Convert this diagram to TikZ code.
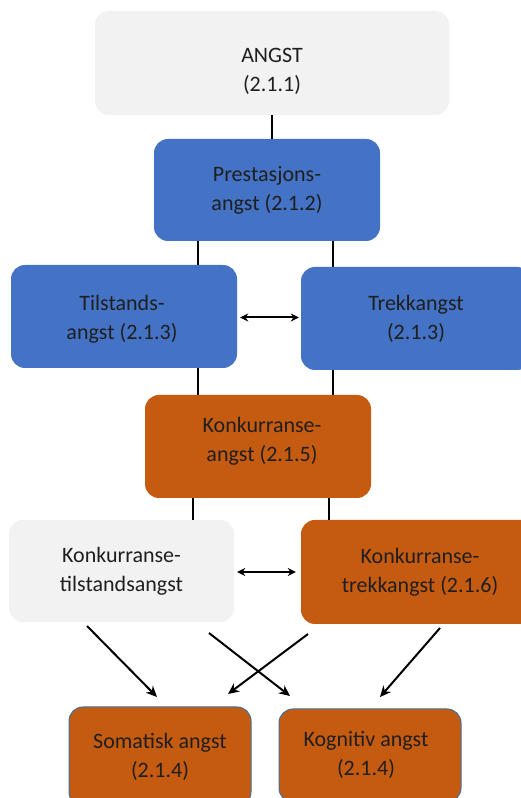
\documentclass[tikz,border=0pt]{standalone}
\usepackage{fontspec}
\setmainfont{Carlito}
\usetikzlibrary{arrows.meta,calc}
\definecolor{lgray}{HTML}{F2F2F2}
\definecolor{mblue}{HTML}{4472C4}
\definecolor{morange}{HTML}{C55A11}
\definecolor{bedge}{HTML}{41719C}
\definecolor{txt}{HTML}{1F1F1F}
\newcommand\nudgetext[3]{\raisebox{#2}[\height][\depth]{\rlap{\hspace*{#1}\begin{tabular}{@{}c@{}}#3\end{tabular}}\phantom{\begin{tabular}{@{}c@{}}#3\end{tabular}}}}
\begin{document}
\begin{tikzpicture}[x=1pt,y=1pt,
  box/.style={rounded corners=14pt, inner sep=0pt, align=center,
    font=\fontsize{22}{29}\selectfont, text=txt},
  grey/.style={box, fill=lgray},
  blue/.style={box, fill=mblue},
  orange/.style={box, fill=morange},
  edged/.style={orange, draw=bedge, line width=1pt},
  link/.style={line width=2.6pt},
  arr/.style={line width=2pt, -{Stealth[length=11pt,width=10pt]}},
  darr/.style={line width=2pt, {Stealth[length=8pt,width=8pt]}-{Stealth[length=8pt,width=8pt]}}]
\useasboundingbox (0,0) rectangle (521,798);
\clip (0,0) rectangle (521,798);
\fill[white] (0,0) rectangle (521,798);
% nodes (y = 798 - pixel y)
\node[grey, minimum width=354, minimum height=104] (angst) at (272,735) {\nudgetext{0pt}{-8pt}{ANGST\\(2.1.1)}};
\node[blue, minimum width=226, minimum height=102] (prest) at (267,608) {Prestasjons-\\angst (2.1.2)};
\node[blue, minimum width=226, minimum height=103] (tils) at (124,481.5) {\nudgetext{-2pt}{-3pt}{Tilstands-\\angst (2.1.3)}};
\node[blue, minimum width=230, minimum height=103] (trekk) at (416,479.5) {Trekkangst\\(2.1.3)};
\node[orange, minimum width=226, minimum height=103] (konk) at (258,351.5) {\nudgetext{4pt}{5pt}{Konkurranse-\\angst (2.1.5)}};
\node[grey, minimum width=225, minimum height=102] (ktils) at (121.5,227) {Konkurranse-\\tilstandsangst};
\node[orange, minimum width=238, minimum height=104] (ktrekk) at (420,226) {Konkurranse-\\trekkangst (2.1.6)};
\node[edged, minimum width=182, minimum height=99] (som) at (160,41.5) {Somatisk angst\\(2.1.4)};
\node[edged, minimum width=182, minimum height=93] (kog) at (370,42.5) {\nudgetext{-4pt}{0pt}{Kognitiv angst\\(2.1.4)}};
% connectors
\draw[link] (angst.south) -- (angst.south |- prest.north);
\draw[link] (prest.south -| 198,0) -- (tils.north -| 198,0);
\draw[link] (prest.south -| 333,0) -- (trekk.north -| 333,0);
\draw[link] (tils.south -| 198,0) -- (konk.north -| 198,0);
\draw[link] (trekk.south -| 333,0) -- (konk.north -| 333,0);
\draw[link] (konk.south -| 193,0) -- (ktils.north -| 193,0);
\draw[link] (konk.south -| 329,0) -- (ktrekk.north -| 329,0);
\draw[darr] ($(tils.east)+(3,-1)$) -- ($(trekk.west)+(-2,1)$);
\draw[darr] ($(ktils.east)+(3,-1)$) -- ($(ktrekk.west)+(-5,0)$);
% arrows to bottom boxes
\coordinate (a1s) at (87,172);
\coordinate (a1e) at (157,101);
\coordinate (a2s) at (209,165);
\coordinate (a2e) at (290,102);
\coordinate (a3s) at (308,164);
\coordinate (a3e) at (228,104);
\coordinate (a4s) at (440,170);
\coordinate (a4e) at (380,101);
\draw[arr] (a1s) -- (a1e);
\draw[arr] (a2s) -- (a2e);
\draw[arr] (a3s) -- (a3e);
\draw[arr] (a4s) -- (a4e);
\end{tikzpicture}
\end{document}
